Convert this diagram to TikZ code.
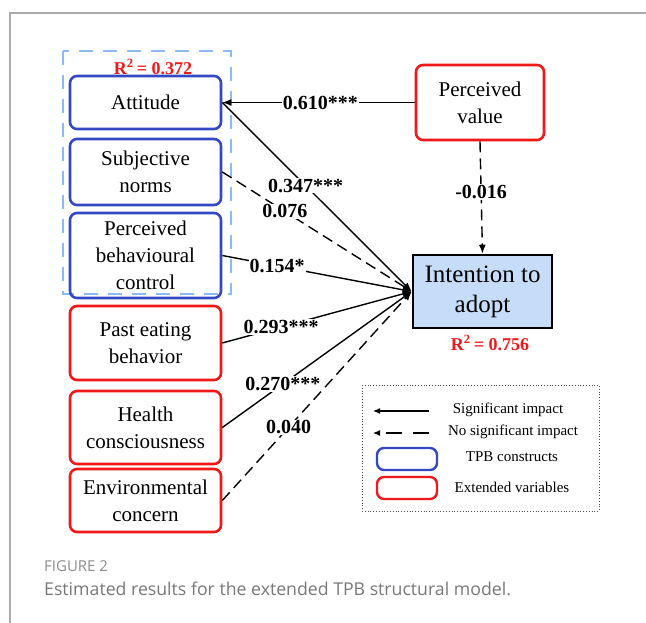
\documentclass[tikz,border=0pt]{standalone}
\usepackage{fontspec}
\setmainfont{Liberation Serif}
\newfontfamily\capfont{Open Sans}
\usetikzlibrary{arrows.meta}
\definecolor{tpbblue}{RGB}{52,72,196}
\definecolor{extred}{RGB}{240,24,24}
\definecolor{groupblue}{RGB}{140,186,242}
\definecolor{intfill}{RGB}{198,221,249}
\definecolor{framegray}{RGB}{170,170,170}
\definecolor{capgray}{RGB}{120,120,120}
\begin{document}
\begin{tikzpicture}[x=1pt,y=-1pt,
	tpb/.style={draw=tpbblue,line width=2.6pt,rounded corners=7pt,minimum width=151pt,align=center,inner sep=0pt,font=\fontsize{21}{27}\selectfont},
	ext/.style={tpb,draw=extred},
	coef/.style={fill=white,inner sep=1pt,font=\fontsize{20}{20}\selectfont\bfseries},
	sig/.style={line width=1.4pt,-{Latex[length=9pt,width=7pt]}},
	nonsig/.style={sig,dash pattern=on 11pt off 6pt},
	rsq/.style={text=extred,font=\fontsize{18}{18}\selectfont\bfseries},
	legtext/.style={font=\fontsize{15}{15}\selectfont}]
		\useasboundingbox (0,0) rectangle (646,623);
		\draw[framegray,line width=1.2pt] (646,13) -- (10,13) -- (10,623);
		% TPB group
		\draw[groupblue,line width=2.4pt,dash pattern=on 14pt off 10pt] (63,51) rectangle (231,294);
		\node[rsq] (r1) at (153,67) {R\textsuperscript{2}\,= 0.372};
		\node[tpb,minimum height=53pt] (att) at (145.5,102.5) {Attitude};
		\node[tpb,minimum height=66pt] (sn) at (145.5,172) {Subjective\\norms};
		\node[tpb,minimum height=85pt] (pbc) at (145.5,255.5) {Perceived\\behavioural\\control};
		% extended variables
		\node[ext,minimum height=74pt] (peb) at (145.5,343) {Past eating\\behavior};
		\node[ext,minimum height=73pt] (hc) at (145.5,427.5) {Health\\consciousness};
		\node[ext,minimum height=63pt] (ec) at (145.5,500.5) {Environmental\\concern};
		\node[ext,minimum width=128pt,minimum height=75pt] (pv) at (480,102.5) {Perceived\\value};
		\node[draw=black,fill=intfill,line width=2.6pt,minimum width=139pt,minimum height=73pt,align=center,inner sep=0pt,font=\fontsize{25}{30}\selectfont] (ita) at (482.5,291.5) {Intention to\\adopt};
		\node[rsq] (r2) at (490,343) {R\textsuperscript{2}\,= 0.756};
		% paths
		\draw[sig] (pv.west) -- node[coef,pos=0.49] {0.610***} (att.east);
		\draw[nonsig] (pv.south) -- node[coef,pos=0.45] {-0.016} (ita.north);
		\draw[nonsig] (sn.east) -- node[coef,pos=0.33] {0.076} (ita.west);
		\draw[sig] (att.east) -- node[coef,pos=0.44] {0.347***} (ita.west);
		\draw[sig] (pbc.east) -- node[coef,pos=0.29] {0.154*} (ita.west);
		\draw[sig] (peb.east) -- node[coef,pos=0.31] {0.293***} (ita.west);
		\draw[sig] (hc.east) -- node[coef,pos=0.32] {0.270***} (ita.west);
		\draw[nonsig] (ec.east) -- node[coef,pos=0.35] {0.040} (ita.west);
		% legend
		\draw[black!70,line width=0.8pt,dotted] (362,385) rectangle (599,511);
		\coordinate (s1) at (429,411);
		\coordinate (s2) at (373,411);
		\coordinate (n1) at (429,433);
		\coordinate (n2) at (373,433);
		\draw[line width=1.2pt,-{Latex[length=7pt,width=6pt]}] (s1) -- (s2);
		\draw[line width=1.2pt,dash pattern=on 16pt off 11pt,-{Latex[length=7pt,width=6pt]}] (n1) -- (n2);
		\node[legtext] (l1) at (508,410) {Significant impact};
		\node[legtext] (l2) at (513,432) {No significant impact};
		\node[tpb,line width=2.4pt,minimum width=60pt,minimum height=22pt] (lb) at (407,459) {};
		\node[ext,line width=2.4pt,minimum width=60pt,minimum height=22pt] (lr) at (407,488) {};
		\node[legtext] (l3) at (512,457) {TPB constructs};
		\node[legtext] (l4) at (512,487) {Extended variables};
		% caption
		\node[anchor=base west,inner sep=0pt,text=capgray!85,font=\capfont\fontsize{15}{15}\selectfont] (fig) at (44,571) {FIGURE 2};
		\node[anchor=base west,inner sep=0pt,text=capgray,font=\capfont\fontsize{17.7}{17.7}\selectfont] (cap) at (44,595) {Estimated results for the extended TPB structural model.};
	\end{tikzpicture}
\end{document}
